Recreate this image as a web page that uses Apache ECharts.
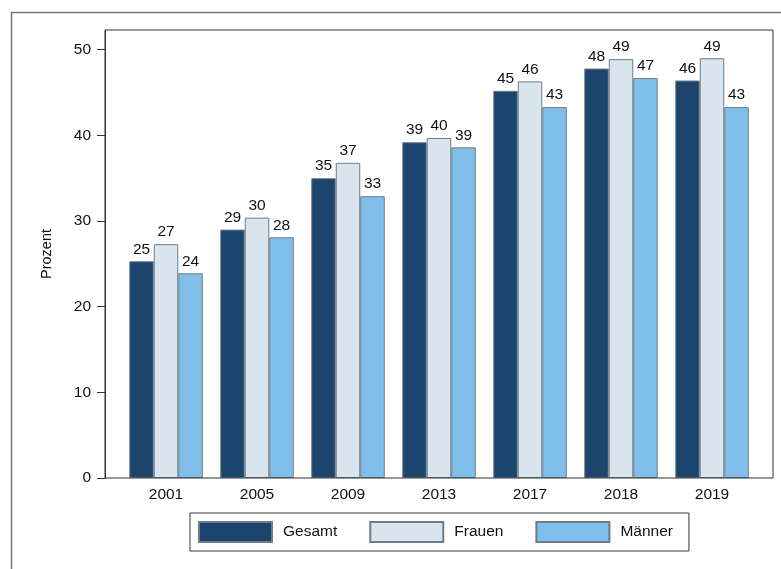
<!DOCTYPE html>
<html>
<head>
<meta charset="utf-8">
<script src="https://cdn.jsdelivr.net/npm/echarts@6/dist/echarts.min.js"></script>
<style>html,body{margin:0;padding:0;background:#fff;}#c{width:781px;height:569px;}</style>
</head>
<body>
<div id="c"></div>
<script>
const years = ['2001','2005','2009','2013','2017','2018','2019'];
const gesamt = [25.3, 29.0, 35.0, 39.2, 45.2, 47.8, 46.4];
const frauen = [27.3, 30.4, 36.8, 39.7, 46.3, 48.9, 49.0];
const maenner = [23.9, 28.1, 32.9, 38.6, 43.3, 46.7, 43.3];
const yTicks = [0, 10, 20, 30, 40, 50];

const font = 'Liberation Sans, Arial, Helvetica, sans-serif';
const chart = echarts.init(document.getElementById('c'), null, {renderer: 'canvas'});
function bar(name, data, color) {
  return {
    name: name, type: 'bar', data: data, barWidth: 24.5, barGap: '0%',
    itemStyle: {color: color, borderColor: '#6e7c88', borderWidth: 1},
    label: {show: true, position: 'top', distance: 4, color: '#111', fontSize: 15.5, fontFamily: font,
      formatter: p => Math.round(p.value)},
    emphasis: {disabled: true}
  };
}
chart.setOption({
  animation: false,
  backgroundColor: '#fff',
  textStyle: {fontFamily: font},
  grid: {left: 120.5, right: 23.5, top: 30, bottom: 91},
  xAxis: {
    type: 'category', data: years,
    axisLine: {show: false}, axisTick: {show: false},
    axisLabel: {color: '#111', fontSize: 15.5, margin: 9, fontFamily: font}
  },
  yAxis: {
    type: 'value', min: 0, max: 52.3, offset: 15.5,
    name: 'Prozent', nameLocation: 'middle', nameGap: 51,
    nameTextStyle: {color: '#111', fontSize: 14.5, fontFamily: font},
    axisLine: {show: true, lineStyle: {color: '#333', width: 1}},
    axisTick: {show: true, length: 8, customValues: yTicks, lineStyle: {color: '#333'}},
    axisLabel: {color: '#111', fontSize: 15.5, margin: 14, customValues: yTicks, fontFamily: font},
    splitLine: {show: false}
  },
  legend: {
    left: 190, top: 513, padding: [8, 16, 8, 8],
    borderColor: '#333', borderWidth: 1,
    itemWidth: 73, itemHeight: 20, itemGap: 32, icon: 'rect',
    textStyle: {color: '#111', fontSize: 15.5, padding: [0, 0, 0, 6], fontFamily: font},
    selectedMode: false
  },
  graphic: [
    {type: 'rect', left: 9, top: 10, shape: {x: 0, y: 0, width: 800, height: 600}, style: {fill: 'none', stroke: '#777', lineWidth: 1.5}, silent: true, z: -10},
    {type: 'rect', shape: {x: 105, y: 30, width: 668, height: 448}, style: {fill: 'none', stroke: '#333', lineWidth: 1}, silent: true, z: 10}
  ],
  series: [
    bar('Gesamt', gesamt, '#1b456d'),
    bar('Frauen', frauen, '#d9e5ec'),
    bar('Männer', maenner, '#80bfea')
  ]
});
</script>
</body>
</html>
